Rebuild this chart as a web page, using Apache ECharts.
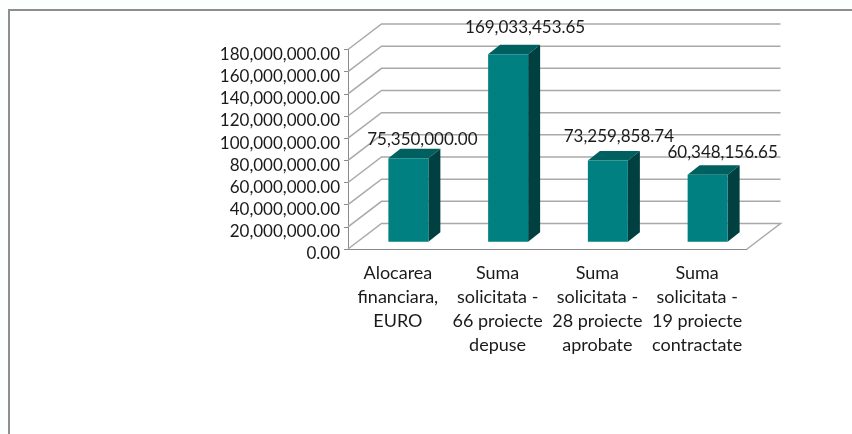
<!DOCTYPE html>
<html>
<head>
<meta charset="utf-8">
<style>
  html, body { margin: 0; padding: 0; background: #fdffff; }
  #chart { width: 852px; height: 434px; }
</style>
<script src="https://cdn.jsdelivr.net/npm/echarts@6/dist/echarts.min.js"></script>
</head>
<body>
<div id="chart"></div>
<script>
var categories = [
  'Alocarea\nfinanciara,\nEURO',
  'Suma\nsolicitata -\n66 proiecte\ndepuse',
  'Suma\nsolicitata -\n28 proiecte\naprobate',
  'Suma\nsolicitata -\n19 proiecte\ncontractate'
];
var values = [75350000.00, 169033453.65, 73259858.74, 60348156.65];
var gridTicks = [0, 20000000, 40000000, 60000000, 80000000, 100000000, 120000000, 140000000, 160000000, 180000000];

// fake 3d: depth of the box and where the bars stand on the floor
var wallDx = 33.5, wallDy = -25.5;
var barDx = 10.5, barDy = -7.3;
var depthDx = 12, depthDy = -9.5;
var barWidth = 40;
// the data labels were moved by hand in the original chart
var labelShift = [[8, -9], [11, -17], [5, -14], [9, -12.5]];

function money(v) {
  return v.toLocaleString('en-US', { minimumFractionDigits: 2, maximumFractionDigits: 2 });
}

var chart = echarts.init(document.getElementById('chart'));
var textFont = { fontFamily: 'Lato', fontSize: 17, color: '#1a1a1a' };

var option = {
  animation: false,
  backgroundColor: 'transparent',
  graphic: [
    { type: 'rect', z: -10, shape: { x: 9, y: 10, width: 843, height: 424 }, style: { fill: '#ffffff' } },
    { type: 'polyline', z: -9, shape: { points: [[9, 434], [9, 10], [852, 10]] }, style: { fill: null, stroke: '#8e8e8e', lineWidth: 2 } }
  ],
  grid: { left: 348, right: 105, top: 49.5, bottom: 185 },
  xAxis: {
    type: 'category',
    data: categories,
    axisLine: { lineStyle: { color: '#8a8a8a', width: 1 } },
    axisTick: { length: 5, alignWithLabel: false, lineStyle: { color: '#8a8a8a' } },
    axisLabel: Object.assign({ interval: 0, margin: 12, lineHeight: 24 }, textFont, { fontSize: 18 })
  },
  yAxis: {
    type: 'value',
    min: 0,
    max: 180000000,
    interval: 20000000,
    axisLine: { show: true, lineStyle: { color: '#8a8a8a', width: 1 } },
    axisTick: { show: true, length: 4, lineStyle: { color: '#8a8a8a' } },
    splitLine: { show: false },
    // text sits a bit under its tick in the original
    axisLabel: Object.assign({ margin: 8, verticalAlign: 'top', lineHeight: 10, formatter: function (v) { return money(v); } }, textFont)
  },
  series: [
    {
      // wall and floor lines
      type: 'custom',
      coordinateSystem: 'cartesian2d',
      silent: true,
      z: 1,
      clip: false,
      data: gridTicks.map(function (t) { return [0, t]; }),
      encode: { y: 1 },
      renderItem: function (params, api) {
        var y = api.coord([0, api.value(1)])[1];
        var left = params.coordSys.x;
        var right = left + params.coordSys.width;
        var pts = [[left, y], [left + wallDx, y + wallDy], [right + wallDx, y + wallDy]];
        if (api.value(1) === 0) pts.push([right, y]);
        return {
          type: 'polyline',
          shape: { points: pts },
          style: { fill: null, stroke: '#a9a9a9', lineWidth: 1.5 }
        };
      }
    },
    {
      // the bars, front + top + side
      type: 'custom',
      coordinateSystem: 'cartesian2d',
      z: 2,
      clip: false,
      data: values.map(function (v, i) { return [i, v]; }),
      encode: { x: 0, y: 1 },
      renderItem: function (params, api) {
        var i = api.value(0);
        var val = api.value(1);
        var top = api.coord([i, val]);
        var base = api.coord([i, 0]);
        var x0 = top[0] + barDx - barWidth / 2;
        var x1 = x0 + barWidth;
        var yTop = top[1] + barDy;
        var yBot = base[1] + barDy;
        var shift = labelShift[i];
        return {
          type: 'group',
          children: [
            {
              type: 'polygon',
              shape: { points: [[x0, yTop], [x0 + depthDx, yTop + depthDy], [x1 + depthDx, yTop + depthDy], [x1, yTop]] },
              style: { fill: '#006060' }
            },
            {
              type: 'polygon',
              shape: { points: [[x1, yTop], [x1 + depthDx, yTop + depthDy], [x1 + depthDx, yBot + depthDy], [x1, yBot]] },
              style: { fill: '#004040' }
            },
            {
              type: 'rect',
              shape: { x: x0, y: yTop, width: barWidth, height: yBot - yTop },
              style: { fill: '#008080' }
            },
            {
              type: 'text',
              z2: 10,
              style: {
                x: (x0 + x1) / 2 + depthDx / 2 + shift[0],
                y: yTop + depthDy + shift[1],
                text: money(val),
                align: 'center',
                verticalAlign: 'middle',
                font: '17px Lato',
                fill: '#1a1a1a'
              }
            }
          ]
        };
      }
    }
  ]
};
chart.setOption(option);
</script>
</body>
</html>
